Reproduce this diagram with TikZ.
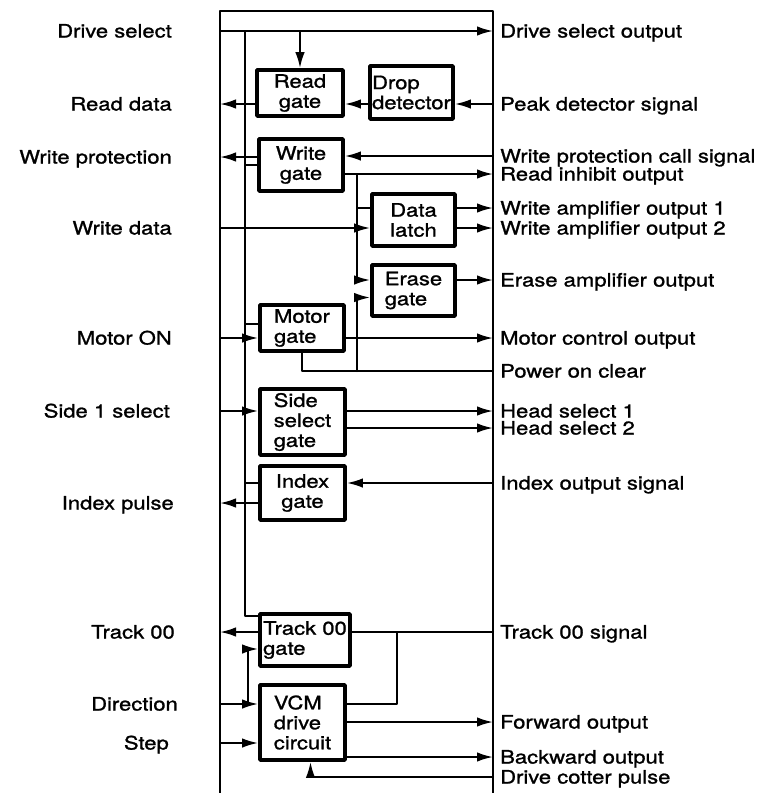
\documentclass[tikz,border=0pt]{standalone}
\usepackage{fontspec}
\setmainfont{TeX Gyre Heros}[FakeStretch=1.19,FakeBold=1.2]
\usetikzlibrary{arrows.meta,calc}

\begin{document}
\begin{tikzpicture}[x=1pt,y=-1pt,line cap=round,line join=round,
  sig/.style={line width=2pt},
  tip/.style={-{Latex[length=16pt,width=9.5pt]}},
  frame/.style={line width=2.4pt},
  gate/.style={draw,line width=3.8pt,inner sep=1pt,font=\fontsize{18.5}{20}\selectfont},
  lab/.style={font=\fontsize{18.5}{20}\selectfont,inner sep=0pt,text height=13pt,text depth=0pt}]
  \useasboundingbox (0,0) rectangle (761,793);
  % frame and bus lines
  \coordinate (fl) at (220,0);
  \coordinate (fr) at (493,0);
  \coordinate (bus) at (245,0);
  \coordinate (jx) at (357,0);
  \coordinate (jt) at (397,0);
  \coordinate (jd) at (248,0);
  \draw[frame] (220,800) -- (220,11) -- (493,11) -- (493,800);
  % gates
  \node[gate,minimum width=86,minimum height=46,align=center] (rg) at (300,93) {Read\\gate};
  \node[gate,minimum width=83,minimum height=53,align=left] (dd) at (411.5,92.5) {Drop\\detector};
  \node[gate,minimum width=84,minimum height=52,align=center] (wg) at (301,165) {Write\\gate};
  \node[gate,minimum width=83,minimum height=52,align=center] (dl) at (413.5,220) {Data\\latch};
  \node[gate,minimum width=83,minimum height=51,align=left] (eg) at (413.5,290.5) {Erase\\gate};
  \node[gate,minimum width=84,minimum height=46,align=left] (mg) at (302,328) {Motor\\gate};
  \node[gate,minimum width=85,minimum height=66,align=left] (sg) at (302.5,422) {Side\\select\\gate};
  \node[gate,minimum width=85,minimum height=54,align=center] (ig) at (302.5,493) {Index\\gate};
  \node[gate,minimum width=90,minimum height=52,align=left] (tg) at (305,640) {Track 00\\gate};
  \node[gate,minimum width=85,minimum height=75,align=left] (vcm) at (302.5,722.5) {VCM\\drive\\circuit};
  % left labels
  \node[lab,anchor=east] (ds) at (172,31) {Drive select};
  \node[lab,anchor=east] (rd) at (172,104) {Read data};
  \node[lab,anchor=east] (wp) at (172,157) {Write protection};
  \node[lab,anchor=east] (wd) at (172,228) {Write data};
  \node[lab,anchor=east] (mon) at (172,338) {Motor ON};
  \node[lab,anchor=east] (s1) at (170,411) {Side 1 select};
  \node[lab,anchor=east] (ip) at (174,503) {Index pulse};
  \node[lab,anchor=east] (t0) at (175,632) {Track 00};
  \node[lab,anchor=east] (dir) at (178,704) {Direction};
  \node[lab,anchor=east] (stp) at (169,743) {Step};
  % right labels
  \node[lab,anchor=west] (dso) at (500,31) {Drive select output};
  \node[lab,anchor=west] (pds) at (500,104) {Peak detector signal};
  \node[lab,anchor=west] (wpc) at (500,156) {Write protection call signal};
  \node[lab,anchor=west] (rio) at (500,174) {Read inhibit output};
  \node[lab,anchor=west] (wa1) at (500,208) {Write amplifier output 1};
  \node[lab,anchor=west] (wa2) at (500,228) {Write amplifier output 2};
  \node[lab,anchor=west] (eao) at (500,280) {Erase amplifier output};
  \node[lab,anchor=west] (mco) at (500,338) {Motor control output};
  \node[lab,anchor=west] (poc) at (500,371) {Power on clear};
  \node[lab,anchor=west] (hs1) at (500,411) {Head select 1};
  \node[lab,anchor=west] (hs2) at (500,428) {Head select 2};
  \node[lab,anchor=west] (ios) at (500,483) {Index output signal};
  \node[lab,anchor=west] (t0s) at (500,632) {Track 00 signal};
  \node[lab,anchor=west] (fwd) at (500,722) {Forward output};
  \node[lab,anchor=west] (bwd) at (500,757) {Backward output};
  \node[lab,anchor=west] (dcp) at (500,777) {Drive cotter pulse};
  % pins off the gate centres
  \path ($(mg.west)+(0,-4)$) coordinate (mgin);
  \path ($(eg.west)+(0,7)$) coordinate (egin);
  \path ($(tg.north west)+(0,4)$) coordinate (tgtop);
  \path ($(tg.west)+(0,9)$) coordinate (tgin);
  \path ($(vcm.south)+(8,0)$) coordinate (vcmin);
  % drive select and bus
  \draw[sig,tip] (fl |- ds) -- (fr |- dso);
  \draw[sig,tip] (rg.north |- ds) -- (rg.north);
  \draw[sig] (bus |- ds) |- (tgtop);
  % read path
  \draw[sig,tip] (fr |- pds) -- (dd.east |- pds);
  \draw[sig,tip] (dd.west |- pds) -- (rg.east |- pds);
  \draw[sig,tip] (rg.west |- rd) -- (fl |- rd);
  % write gate
  \draw[sig,tip] (fr |- wpc) -- (wg.east |- wpc);
  \draw[sig,tip] (wg.west |- wp) -- (fl |- wp);
  \draw[sig] (bus |- wg) -- (wg.west);
  \draw[sig,tip] (wg.east |- rio) -- (fr |- rio);
  \draw[sig,tip] (jx |- rio) |- (eg.west |- eao);
  \draw[sig] (jx |- wa1) -- (dl.west |- wa1);
  % data latch and erase gate
  \draw[sig,tip] (fl |- wd) -- (dl.west |- wd);
  \draw[sig,tip] (dl.east |- wa1) -- (fr |- wa1);
  \draw[sig,tip] (dl.east |- wa2) -- (fr |- wa2);
  \draw[sig,tip] (eg.east |- eao) -- (fr |- eao);
  % motor gate
  \draw[sig,tip] (fl |- mon) -- (mg.west |- mon);
  \draw[sig] (bus |- mgin) -- (mgin);
  \draw[sig,tip] (mg.east |- mco) -- (fr |- mco);
  \draw[sig] (fr |- poc) -| (mg.south);
  \draw[sig,tip] (jx |- poc) |- (egin);
  % side select and index
  \draw[sig,tip] (fl |- s1) -- (sg.west |- s1);
  \draw[sig,tip] (sg.east |- hs1) -- (fr |- hs1);
  \draw[sig,tip] (sg.east |- hs2) -- (fr |- hs2);
  \draw[sig,tip] (fr |- ios) -- (ig.east |- ios);
  \draw[sig] (bus |- ios) -- (ig.west |- ios);
  \draw[sig,tip] (ig.west |- ip) -- (fl |- ip);
  % track 00 and VCM
  \draw[sig,tip] (tg.west |- t0) -- (fl |- t0);
  \draw[sig] (tg.east |- t0s) -- (fr |- t0s);
  \draw[sig] (jt |- t0s) |- (vcm.east |- dir);
  \draw[sig,tip] (fl |- dir) -- (vcm.west |- dir);
  \draw[sig,tip] (jd |- dir) |- (tgin);
  \draw[sig,tip] (fl |- stp) -- (vcm.west |- stp);
  \draw[sig,tip] (vcm.east |- fwd) -- (fr |- fwd);
  \draw[sig,tip] (vcm.east |- bwd) -- (fr |- bwd);
  \draw[sig,tip] (fr |- dcp) -| (vcmin);
\end{tikzpicture}
\end{document}
